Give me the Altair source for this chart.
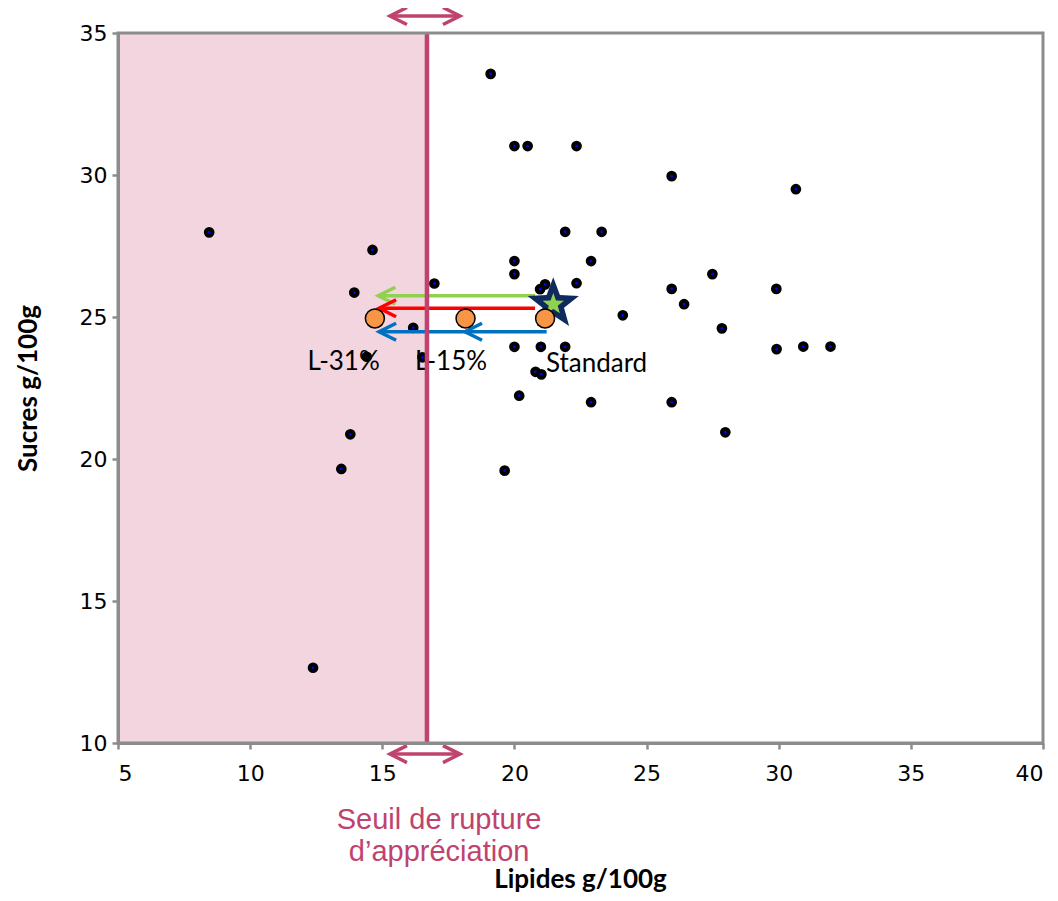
import altair as alt
import pandas as pd

# ---------------- data ----------------
lip = [8.45, 12.38, 13.45, 13.79, 13.94, 14.63, 14.41, 16.17, 16.52, 16.97,
       19.1, 20.0, 20.5, 22.35, 20.0, 20.0, 20.0, 21.0, 21.92, 21.92,
       23.3, 22.9, 20.97, 21.16, 22.35, 20.8, 21.02, 20.18, 22.9, 25.95,
       27.98, 19.63, 25.95, 30.65, 27.49, 25.95, 26.42, 29.91, 24.1, 27.85,
       29.92, 30.93, 31.96]
suc = [27.98, 12.65, 19.65, 20.87, 25.86, 27.36, 23.6, 24.62, 23.58, 26.18,
       33.56, 31.02, 31.02, 31.02, 26.97, 26.51, 23.95, 23.95, 23.95, 28.0,
       28.0, 26.97, 25.98, 26.15, 26.19, 23.07, 22.98, 22.23, 22.0, 22.0,
       20.94, 19.59, 29.96, 29.5, 26.51, 25.99, 25.45, 25.99, 25.06, 24.6,
       23.87, 23.96, 23.96]

# reformulations (orange)
ref_lip = [14.72, 18.15, 21.16]
ref_suc = [24.95, 24.95, 24.95]
ref_lbl = ["L-31%", "L-15%", "Standard"]
lbl_x = [13.54, 17.6, 21.19]
lbl_y = [23.4, 23.4, 23.33]
lbl_align = ["center", "center", "left"]

# star (standard product)
star_lip = [21.47]
star_suc = [25.45]

# arrows
arr_y = [25.75, 25.31, 24.48]
arr_from = [20.78, 20.78, 21.22]
arr_to = [14.85, 14.88, 14.88]
arr_col = ["#92D050", "#FF0000", "#0070C0"]
extra_head_x = [18.13]
extra_head_y = [24.48]

# threshold
seuil = 16.69
x_dom = [5, 40]
y_dom = [10, 35]
x_ticks = [5, 10, 15, 20, 25, 30, 35, 40]
y_ticks = [10, 15, 20, 25, 30, 35]
dbl_left = 15.29
dbl_right = 17.94
dbl_y = [35.6, 9.61]
seuil_text = ["Seuil de rupture", "d\u2019appr\u00e9ciation"]
seuil_text_x = [17.15, 17.15]
seuil_text_y = [7.29, 6.16]

PINK = "#C0436F"
GRAY = "#8C8C8C"

xs = alt.Scale(domain=x_dom, nice=False, zero=False)
ys = alt.Scale(domain=y_dom, nice=False, zero=False)

LEFT_CHEV = "M1,-0.5 L0,0 L1,0.5"
RIGHT_CHEV = "M-1,-0.5 L0,0 L-1,0.5"
STAR = ("M0,-1 L0.247,-0.34 L0.951,-0.309 L0.399,0.13 L0.588,0.809 L0,0.42 "
        "L-0.588,0.809 L-0.399,0.13 L-0.951,-0.309 L-0.247,-0.34 Z")

axis_common = dict(grid=False, domainColor=GRAY, domainWidth=3, tickColor=GRAY,
                   tickWidth=2.5, tickSize=6, labelFont="DejaVu Sans",
                   labelFontSize=22, labelColor="black", zindex=1,
                   titleFont="Lato", titleFontSize=26, titleFontWeight="bold",
                   titleColor="black", titleBaseline="middle")

# ---------------- layers ----------------
shade_df = pd.DataFrame({"x": [x_dom[0]], "x2": [seuil], "y": [y_dom[0]], "y2": [y_dom[1]]})
shade = alt.Chart(shade_df).mark_rect(color="#F2D5DF").encode(
    x=alt.X("x:Q", scale=xs,
            axis=alt.Axis(values=x_ticks, title="Lipides g/100g",
                          titleX=462, titleY=136, labelPadding=14, **axis_common)),
    x2="x2:Q",
    y=alt.Y("y:Q", scale=ys,
            axis=alt.Axis(values=y_ticks, title="Sucres g/100g",
                          titleX=-90, titleY=355, titleAngle=-90, titleAlign="center",
                          labelPadding=5, **axis_common)),
    y2="y2:Q",
)

pts_df = pd.DataFrame({"lip": lip, "suc": suc})
pts = alt.Chart(pts_df).mark_circle(fill="#0000FF", stroke="black", strokeWidth=4,
                                    size=45, opacity=1).encode(
    x=alt.X("lip:Q", scale=xs), y=alt.Y("suc:Q", scale=ys))

arr_df = pd.DataFrame({"y": arr_y, "x1": arr_from, "x2": arr_to, "c": arr_col})
arr_lines = alt.Chart(arr_df).mark_rule(strokeWidth=3.5).encode(
    x=alt.X("x1:Q", scale=xs), x2="x2:Q", y=alt.Y("y:Q", scale=ys),
    color=alt.Color("c:N", scale=None))

head_df = pd.DataFrame({"x": arr_to + extra_head_x,
                        "y": arr_y + extra_head_y,
                        "c": arr_col + [arr_col[2]]})
arr_heads = alt.Chart(head_df).mark_point(shape=LEFT_CHEV, filled=False, size=1156,
                                          strokeWidth=3.5, opacity=1).encode(
    x=alt.X("x:Q", scale=xs), y=alt.Y("y:Q", scale=ys),
    color=alt.Color("c:N", scale=None))

star_df = pd.DataFrame({"x": star_lip, "y": star_suc})
star_big = alt.Chart(star_df).mark_point(shape=STAR, filled=True, fill="#0F2B5E",
                                         size=2900, opacity=1, strokeWidth=0).encode(
    x=alt.X("x:Q", scale=xs), y=alt.Y("y:Q", scale=ys))
star_small = alt.Chart(star_df).mark_point(shape=STAR, filled=True, fill="#92D050",
                                           size=500, opacity=1, strokeWidth=0).encode(
    x=alt.X("x:Q", scale=xs), y=alt.Y("y:Q", scale=ys))

ref_df = pd.DataFrame({"x": ref_lip, "y": ref_suc})
refs = alt.Chart(ref_df).mark_circle(fill="#F79646", stroke="black", strokeWidth=1.5,
                                     size=360, opacity=1).encode(
    x=alt.X("x:Q", scale=xs), y=alt.Y("y:Q", scale=ys))

lbl_df = pd.DataFrame({"x": lbl_x, "y": lbl_y, "t": ref_lbl, "a": lbl_align})
lbl_c = alt.Chart(lbl_df[lbl_df.a == "center"]).mark_text(
    font="Lato", fontSize=26, color="black", align="center", baseline="middle").encode(
    x=alt.X("x:Q", scale=xs), y=alt.Y("y:Q", scale=ys), text="t:N")
lbl_l = alt.Chart(lbl_df[lbl_df.a == "left"]).mark_text(
    font="Lato", fontSize=26, color="black", align="left", baseline="middle").encode(
    x=alt.X("x:Q", scale=xs), y=alt.Y("y:Q", scale=ys), text="t:N")

thr_df = pd.DataFrame({"x": [seuil], "y": [y_dom[0]], "y2": [y_dom[1]]})
thr = alt.Chart(thr_df).mark_rule(color=PINK, strokeWidth=4.5).encode(
    x=alt.X("x:Q", scale=xs), y=alt.Y("y:Q", scale=ys), y2="y2:Q")

dbl_df = pd.DataFrame({"x1": [dbl_left] * 2, "x2": [dbl_right] * 2, "y": dbl_y})
dbl_lines = alt.Chart(dbl_df).mark_rule(color=PINK, strokeWidth=3.5).encode(
    x=alt.X("x1:Q", scale=xs), x2="x2:Q", y=alt.Y("y:Q", scale=ys))
dbl_lh = alt.Chart(dbl_df).mark_point(shape=LEFT_CHEV, filled=False, size=1156,
                                      strokeWidth=3.5, color=PINK, opacity=1).encode(
    x=alt.X("x1:Q", scale=xs), y=alt.Y("y:Q", scale=ys))
dbl_rh = alt.Chart(dbl_df).mark_point(shape=RIGHT_CHEV, filled=False, size=1156,
                                      strokeWidth=3.5, color=PINK, opacity=1).encode(
    x=alt.X("x2:Q", scale=xs), y=alt.Y("y:Q", scale=ys))

st_df = pd.DataFrame({"x": seuil_text_x, "y": seuil_text_y, "t": seuil_text})
st = alt.Chart(st_df).mark_text(font="Liberation Sans", fontSize=29, color=PINK,
                                align="center", baseline="middle").encode(
    x=alt.X("x:Q", scale=xs), y=alt.Y("y:Q", scale=ys), text="t:N")

frame_df = pd.DataFrame({"x": [x_dom[0]], "x2": [x_dom[1]], "y": [y_dom[0]], "y2": [y_dom[1]]})
frame = alt.Chart(frame_df).mark_rect(fill=None, fillOpacity=0, stroke=GRAY,
                                      strokeWidth=3).encode(
    x=alt.X("x:Q", scale=xs), x2="x2:Q", y=alt.Y("y:Q", scale=ys), y2="y2:Q")

chart = alt.layer(
    shade, pts, arr_lines, arr_heads, star_big, star_small, refs,
    lbl_c, lbl_l, thr, dbl_lines, dbl_lh, dbl_rh, st, frame
).properties(
    width=925, height=710,
    autosize=alt.AutoSizeParams(type="none"),
    padding={"left": 110, "top": 25, "right": 7, "bottom": 150},
).configure_view(stroke=None)

chart.save("out.html", embed_options={"renderer": "svg", "actions": False})
